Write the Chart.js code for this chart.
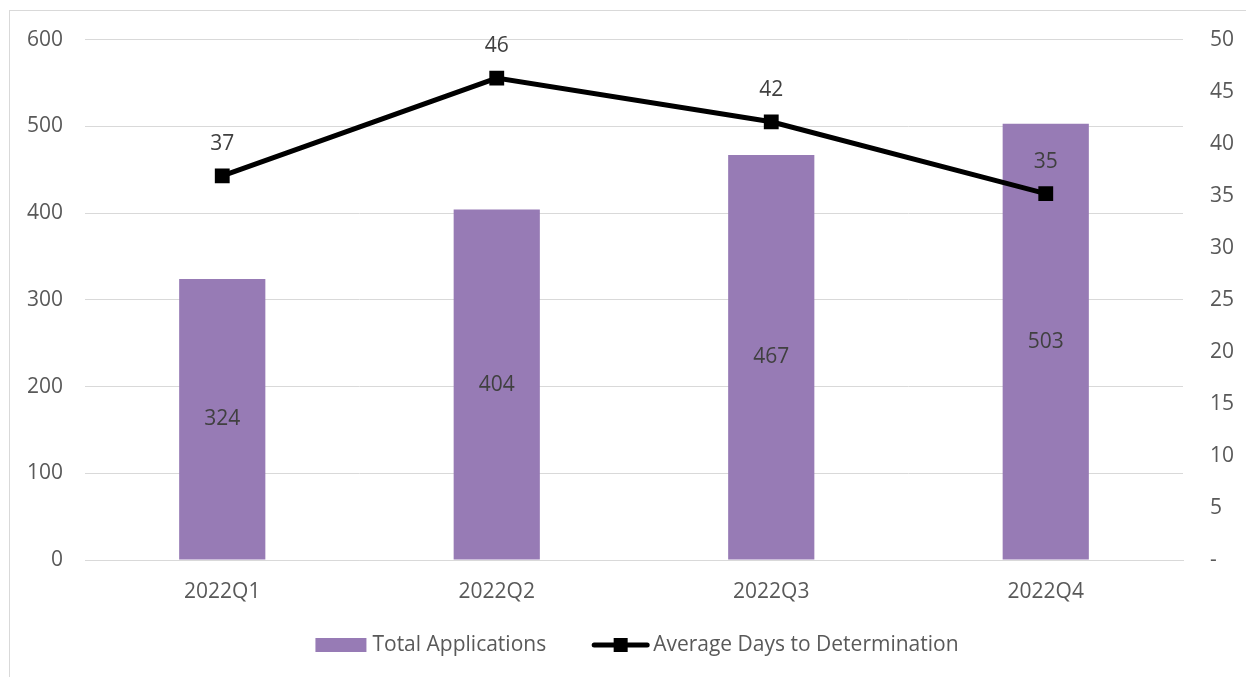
<!DOCTYPE html>
<html>
<head>
<meta charset="utf-8">
<script src="https://cdn.jsdelivr.net/npm/chart.js@4.4.1/dist/chart.umd.min.js"></script>
<style>
  html, body { margin: 0; padding: 0; background: #fff; overflow: hidden; }
  #frame { position: absolute; left: 9px; top: 10px; width: 1300px; height: 700px; border: 1px solid #d9d9d9; }
  #c { position: absolute; left: 0; top: 0; }
</style>
</head>
<body>
<div id="frame"></div>
<canvas id="c" width="1246" height="677"></canvas>
<script>
// ---- data ----
const quarters = ["2022Q1", "2022Q2", "2022Q3", "2022Q4"];
const totalApplications = [324, 404, 467, 503];
const avgDaysToDetermination = [36.9, 46.3, 42.1, 35.2];
const seriesNames = ["Total Applications", "Average Days to Determination"];

const PURPLE = "#977bb5";
const AXIS_TEXT = "#595959";
const LABEL_TEXT = "#404040";
const GRID = "#d9d9d9";
const FONT = "'Open Sans', 'Liberation Sans', sans-serif";
const FS = 21;

Chart.defaults.font.family = FONT;
Chart.defaults.font.size = FS;
Chart.defaults.color = AXIS_TEXT;

// value labels: centred in bars, above line markers
const valueLabels = {
  id: "valueLabels",
  afterDatasetsDraw(chart) {
    const ctx = chart.ctx;
    ctx.save();
    ctx.font = `${FS}px ${FONT}`;
    ctx.fillStyle = LABEL_TEXT;
    ctx.textAlign = "center";
    ctx.textBaseline = "middle";
    chart.getDatasetMeta(0).data.forEach((el, i) => {
      ctx.fillText(String(totalApplications[i]), el.x, (el.y + el.base) / 2);
    });
    chart.getDatasetMeta(1).data.forEach((el, i) => {
      ctx.fillText(String(Math.round(avgDaysToDetermination[i])), el.x, el.y - 32);
    });
    ctx.restore();
  }
};

// bottom legend, drawn by hand so the line entry gets its square marker
const bottomLegend = {
  id: "bottomLegend",
  afterDraw(chart) {
    const ctx = chart.ctx;
    ctx.save();
    ctx.font = `${FS}px ${FONT}`;
    ctx.textBaseline = "middle";
    ctx.textAlign = "left";
    const y = 645;
    const boxW = 51, gap1 = 6, midGap = 46, lineW = 57, gap2 = 4;
    const w0 = ctx.measureText(seriesNames[0]).width;
    const w1 = ctx.measureText(seriesNames[1]).width;
    const total = boxW + gap1 + w0 + midGap + lineW + gap2 + w1;
    let x = 637 - total / 2;
    ctx.fillStyle = PURPLE;
    ctx.fillRect(x, y - 7, boxW, 14);
    x += boxW + gap1;
    ctx.fillStyle = AXIS_TEXT;
    ctx.fillText(seriesNames[0], x, y);
    x += w0 + midGap;
    ctx.strokeStyle = "#000";
    ctx.lineWidth = 5;
    ctx.lineCap = "round";
    ctx.beginPath();
    ctx.moveTo(x + 2, y);
    ctx.lineTo(x + lineW - 2, y);
    ctx.stroke();
    ctx.fillStyle = "#000";
    ctx.fillRect(x + lineW / 2 - 7, y - 7, 14, 14);
    x += lineW + gap2;
    ctx.fillStyle = AXIS_TEXT;
    ctx.fillText(seriesNames[1], x, y);
    ctx.restore();
  }
};

new Chart(document.getElementById("c").getContext("2d"), {
  plugins: [valueLabels, bottomLegend],
  data: {
    labels: quarters,
    datasets: [
      {
        type: "bar",
        label: seriesNames[0],
        data: totalApplications,
        yAxisID: "y",
        backgroundColor: PURPLE,
        borderWidth: 0,
        barPercentage: 0.314,
        categoryPercentage: 1.0,
        order: 1
      },
      {
        type: "line",
        label: seriesNames[1],
        data: avgDaysToDetermination,
        yAxisID: "y1",
        borderColor: "#000",
        borderWidth: 5,
        backgroundColor: "#000",
        pointStyle: "rect",
        pointRadius: 10.5,
        pointBorderWidth: 0,
        tension: 0,
        order: 0
      }
    ]
  },
  options: {
    responsive: false,
    animation: false,
    layout: { padding: { top: 39, left: 0, right: 0, bottom: 0 } },
    plugins: {
      legend: { display: false },
      tooltip: { enabled: false }
    },
    scales: {
      x: {
        grid: { display: false, drawTicks: false },
        border: { display: true, color: GRID, width: 1 },
        ticks: { padding: 19, color: AXIS_TEXT, font: { size: FS } },
        afterFit(s) { s.height = 117; }
      },
      y: {
        position: "left",
        min: 0, max: 600,
        ticks: { stepSize: 100, padding: 22, color: AXIS_TEXT, font: { size: FS } },
        grid: { color: GRID, lineWidth: 1, drawTicks: false },
        border: { display: false },
        afterFit(s) { s.width = 85; }
      },
      y1: {
        position: "right",
        min: 0, max: 50,
        ticks: {
          stepSize: 5, padding: 27, color: AXIS_TEXT, font: { size: FS },
          callback: v => v === 0 ? "-" : String(v)
        },
        grid: { drawOnChartArea: false, drawTicks: false },
        border: { display: false },
        afterFit(s) { s.width = 63; }
      }
    }
  }
});
</script>
</body>
</html>
